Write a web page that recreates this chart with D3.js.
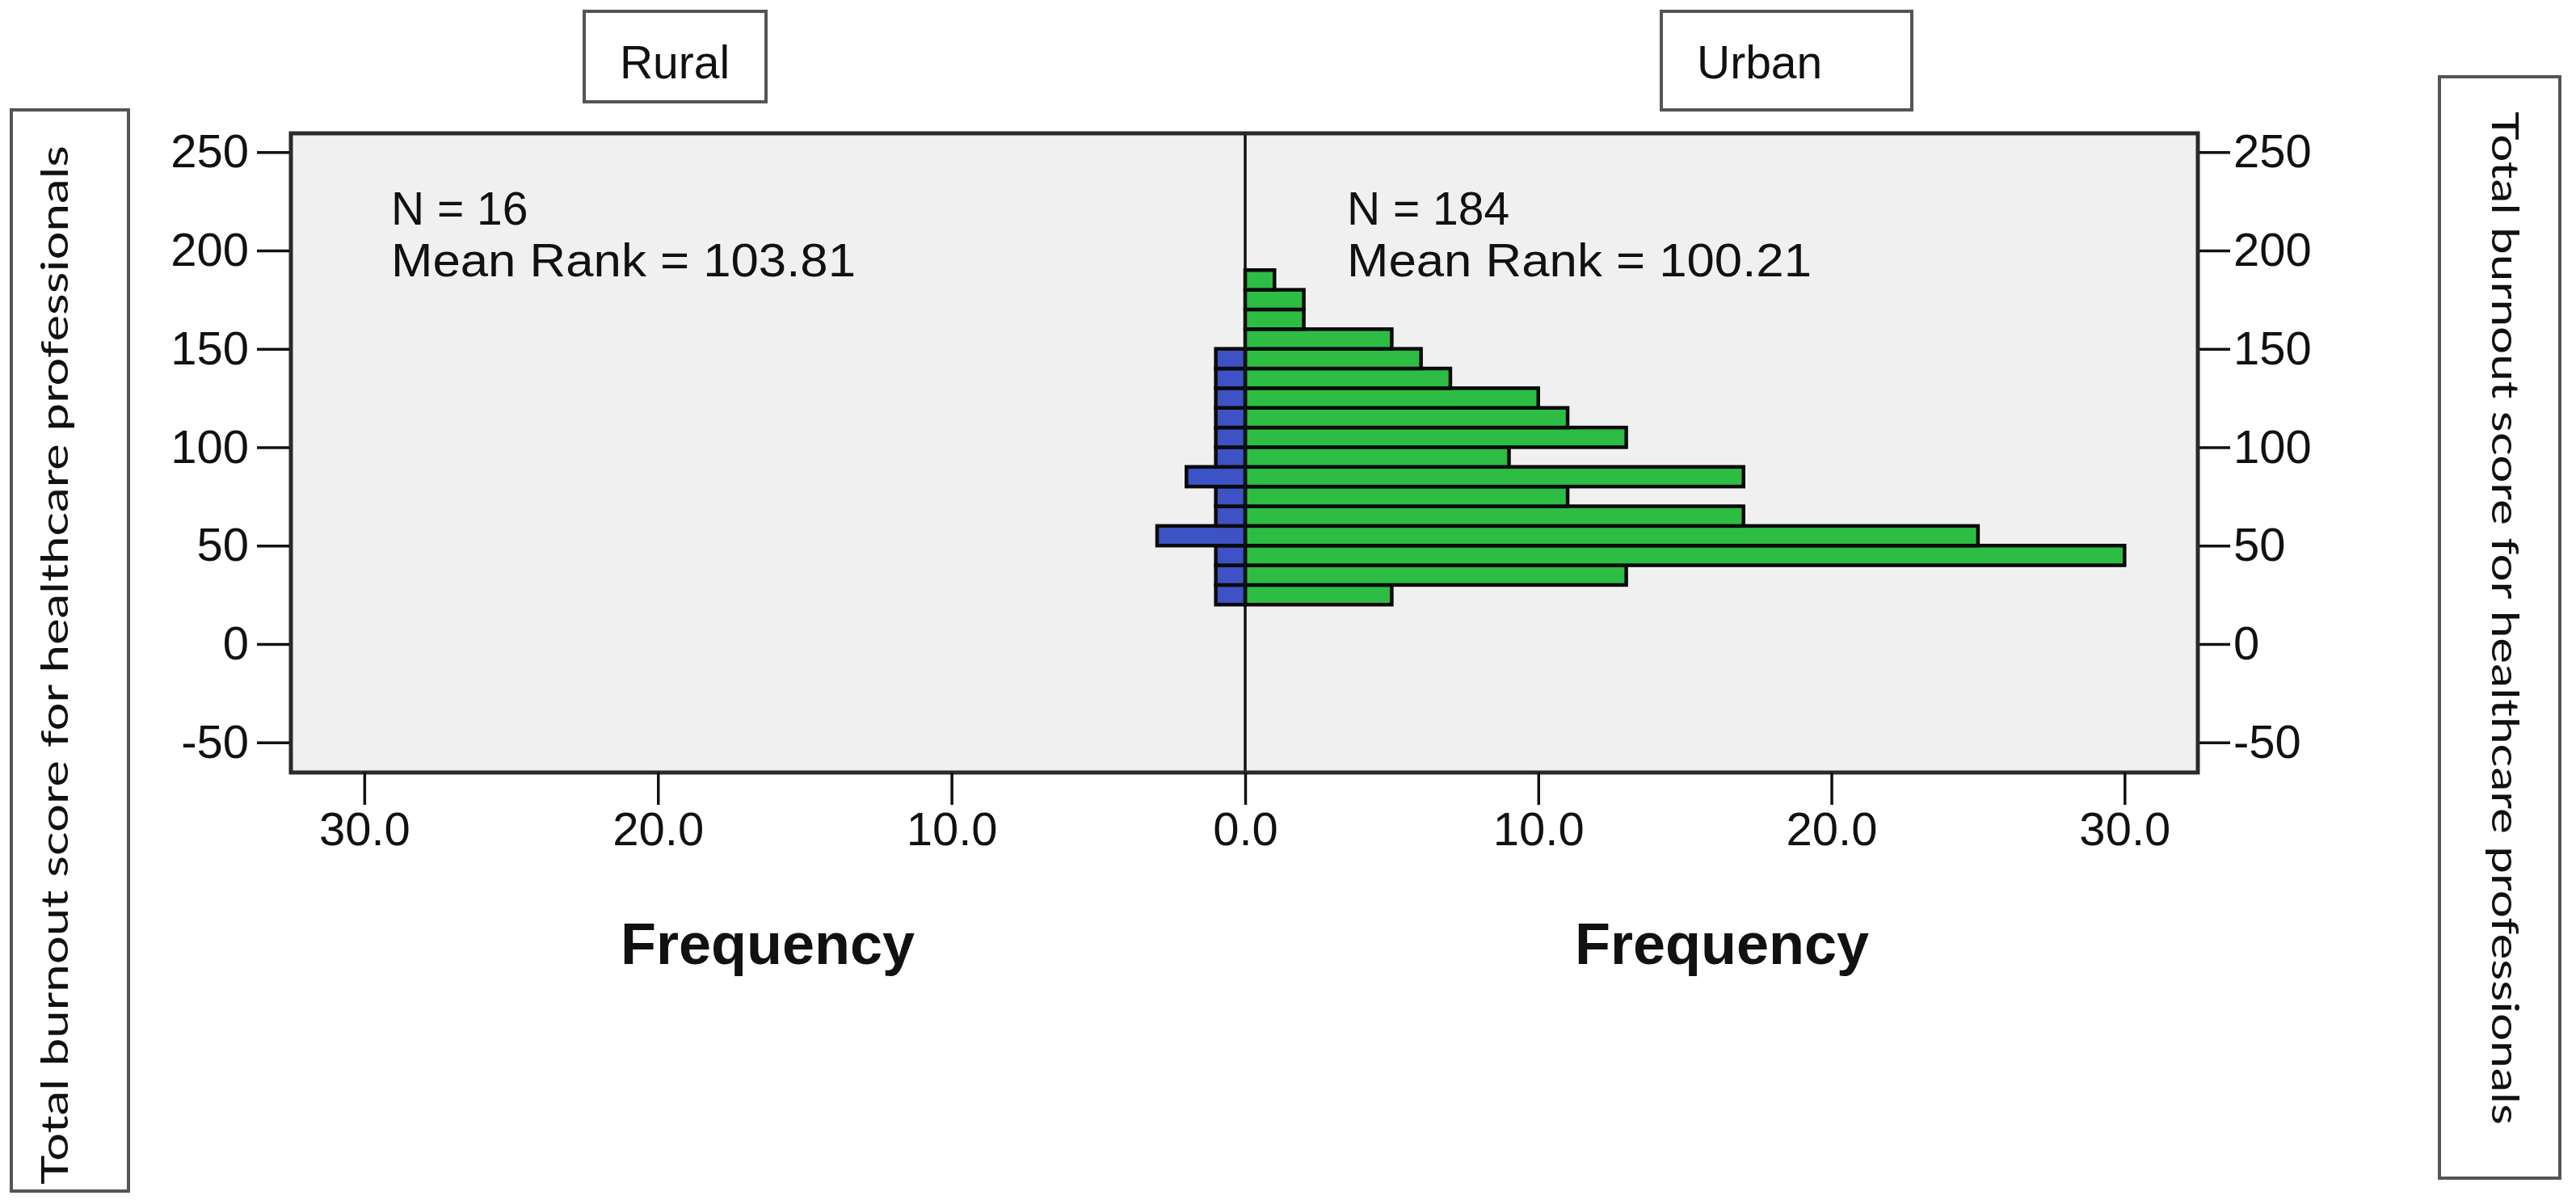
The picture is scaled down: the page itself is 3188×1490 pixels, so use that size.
<!DOCTYPE html>
<html>
<head>
<meta charset="utf-8">
<script src="https://cdn.jsdelivr.net/npm/d3@7"></script>
<style>
  html, body { margin: 0; padding: 0; background: #ffffff; }
  svg { display: block; }
  text { font-family: "Liberation Sans", Arial, sans-serif; fill: #111; }
</style>
</head>
<body>
<svg id="chart" width="3188" height="1490"></svg>
<script>
// ---- data ----
const groups = ["Rural", "Urban"];
const binLower = [20, 30, 40, 50, 60, 70, 80, 90, 100, 110, 120, 130, 140, 150, 160, 170, 180];
const binWidth = 10;
const ruralFreq = [1, 1, 1, 3, 1, 1, 2, 1, 1, 1, 1, 1, 1, 0, 0, 0, 0];
const urbanFreq = [5, 13, 30, 25, 17, 11, 17, 9, 13, 11, 10, 7, 6, 5, 2, 2, 1];
const yTicks = [-50, 0, 50, 100, 150, 200, 250];
const xTicksLeft = [0, 10, 20, 30];
const xTicksRight = [10, 20, 30];
const statsRural = ["N = 16", "Mean Rank = 103.81"];
const statsUrban = ["N = 184", "Mean Rank = 100.21"];
const yTitle = "Total burnout score for healthcare professionals";
const xTitle = "Frequency";

// ---- layout ----
const svg = d3.select("#chart");
const plot = { left: 360, right: 2720, top: 165, bottom: 956 };
const zeroX = 1541;

const y = d3.scaleLinear().domain([-65.3, 259.5]).range([plot.bottom, plot.top]);
const xL = d3.scaleLinear().domain([0, 32.5]).range([zeroX, plot.left]);
const xR = d3.scaleLinear().domain([0, 32.5]).range([zeroX, plot.right]);

// plot background
svg.append("rect")
  .attr("x", plot.left).attr("y", plot.top)
  .attr("width", plot.right - plot.left).attr("height", plot.bottom - plot.top)
  .attr("fill", "#f0f0f0");

// bars
const rows = binLower.map((b, i) => ({ lo: b, hi: b + binWidth, r: ruralFreq[i], u: urbanFreq[i] }));

svg.append("g").selectAll("rect").data(rows.filter(d => d.u > 0)).join("rect")
  .attr("x", xR(0))
  .attr("y", d => y(d.hi))
  .attr("width", d => xR(d.u) - xR(0))
  .attr("height", d => y(d.lo) - y(d.hi))
  .attr("fill", "#2dbd45")
  .attr("stroke", "#0a0a0a")
  .attr("stroke-width", 4.5);

svg.append("g").selectAll("rect").data(rows.filter(d => d.r > 0)).join("rect")
  .attr("x", d => xL(d.r))
  .attr("y", d => y(d.hi))
  .attr("width", d => xL(0) - xL(d.r))
  .attr("height", d => y(d.lo) - y(d.hi))
  .attr("fill", "#3d52c4")
  .attr("stroke", "#0a0a0a")
  .attr("stroke-width", 4.5);

// center line
svg.append("line")
  .attr("x1", zeroX).attr("x2", zeroX)
  .attr("y1", plot.top).attr("y2", plot.bottom)
  .attr("stroke", "#111").attr("stroke-width", 3.5);

// frame
svg.append("rect")
  .attr("x", plot.left).attr("y", plot.top)
  .attr("width", plot.right - plot.left).attr("height", plot.bottom - plot.top)
  .attr("fill", "none").attr("stroke", "#2a2a2a").attr("stroke-width", 5);

// axes
function styleAxis(g, size) {
  g.select(".domain").remove();
  g.selectAll(".tick line").attr("stroke", "#111").attr("stroke-width", 3.5);
  g.selectAll(".tick text").attr("font-size", size).attr("fill", "#111")
    .style("font-family", "'Liberation Sans', Arial, sans-serif");
}
const intFmt = d => String(d);

svg.append("g").attr("transform", `translate(${plot.left - 2},0)`)
  .call(d3.axisLeft(y).tickValues(yTicks).tickSize(40).tickPadding(10).tickFormat(intFmt))
  .call(g => styleAxis(g, 58));

svg.append("g").attr("transform", `translate(${plot.right + 2},0)`)
  .call(d3.axisRight(y).tickValues(yTicks).tickSize(38).tickPadding(4).tickFormat(intFmt))
  .call(g => styleAxis(g, 58));

svg.append("g").attr("transform", `translate(0,${plot.bottom})`)
  .call(d3.axisBottom(xL).tickValues(xTicksLeft).tickSize(40).tickPadding(9).tickFormat(d3.format(".1f")))
  .call(g => styleAxis(g, 58));

svg.append("g").attr("transform", `translate(0,${plot.bottom})`)
  .call(d3.axisBottom(xR).tickValues(xTicksRight).tickSize(40).tickPadding(9).tickFormat(d3.format(".1f")))
  .call(g => styleAxis(g, 58));

// x titles
[950, 2131].forEach(cx => {
  svg.append("text")
    .attr("x", cx).attr("y", 1193)
    .attr("text-anchor", "middle")
    .attr("font-size", 72).attr("font-weight", "bold")
    .text(xTitle);
});

// stats text
function stats(lines, x0) {
  lines.forEach((s, i) => {
    svg.append("text").attr("x", x0).attr("y", 278 + i * 64)
      .attr("font-size", 57)
      .attr("textLength", i === 0 ? null : 575)
      .attr("lengthAdjust", "spacingAndGlyphs")
      .text(s);
  });
}
stats(statsRural, 484);
stats(statsUrban, 1667);

// group boxes
const boxes = [
  { label: groups[0], x: 723, y: 14, w: 225, h: 112, tx: 835, anchor: "middle" },
  { label: groups[1], x: 2056, y: 14, w: 310, h: 122, tx: 2100, anchor: "start" }
];
boxes.forEach(b => {
  svg.append("rect").attr("x", b.x).attr("y", b.y).attr("width", b.w).attr("height", b.h)
    .attr("fill", "#fff").attr("stroke", "#555").attr("stroke-width", 4);
  svg.append("text").attr("x", b.tx).attr("y", 97).attr("text-anchor", b.anchor)
    .attr("font-size", 57).text(b.label);
});

// y-title boxes
svg.append("rect").attr("x", 14).attr("y", 136).attr("width", 145).attr("height", 1338)
  .attr("fill", "#fff").attr("stroke", "#555").attr("stroke-width", 4);
svg.append("text")
  .attr("transform", "translate(84,823) rotate(-90)")
  .attr("text-anchor", "middle")
  .attr("font-size", 46)
  .attr("textLength", 1286).attr("lengthAdjust", "spacingAndGlyphs")
  .style("font-family", "Lato, 'Open Sans', sans-serif")
  .text(yTitle);

svg.append("rect").attr("x", 3019).attr("y", 95).attr("width", 149).attr("height", 1363)
  .attr("fill", "#fff").attr("stroke", "#555").attr("stroke-width", 4);
svg.append("text")
  .attr("transform", "translate(3084,765) rotate(90)")
  .attr("text-anchor", "middle")
  .attr("font-size", 46)
  .attr("textLength", 1254).attr("lengthAdjust", "spacingAndGlyphs")
  .style("font-family", "Lato, 'Open Sans', sans-serif")
  .text(yTitle);
</script>
</body>
</html>
